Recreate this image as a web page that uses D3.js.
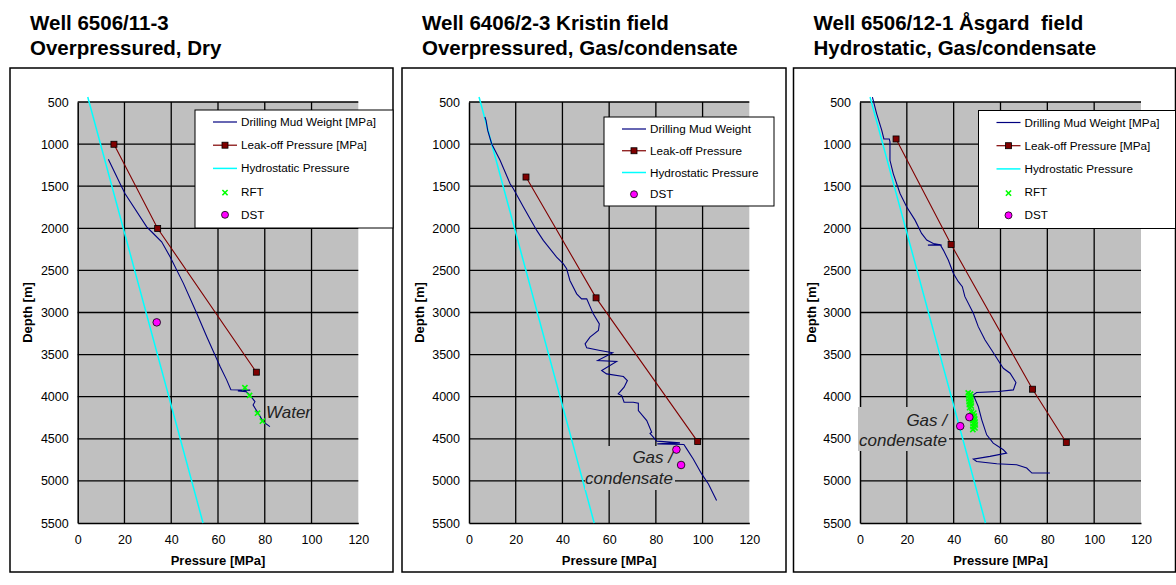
<!DOCTYPE html>
<html lang="en">
  <head>
    <meta charset="UTF-8" />
    <title>Well pressure profiles</title>
    <style>
      body { margin: 0; background: #fff; }
      svg { display: block; font-family: "Liberation Sans", Arial, sans-serif; }
    </style>
  </head>
  <body>
    <script src="https://cdn.jsdelivr.net/npm/d3@7/dist/d3.min.js"></script>
    <script>
      // ---- data : [pressure MPa, depth m] ----
      const pressureTicks = [0, 20, 40, 60, 80, 100, 120];
      const depthTicks = [500, 1000, 1500, 2000, 2500, 3000, 3500, 4000, 4500, 5000, 5500];

      const hydrostatic = [[4.3, 441], [53.6, 5500]];

      // Well 6506/11-3
      const mud1 = [[13.1, 1180], [18.1, 1468], [20.2, 1587], [29.5, 1982], [31.6, 2041], [35.9, 2160],
        [39.5, 2338], [45.2, 2654], [50.9, 3010], [55.2, 3287], [60.9, 3642], [63.7, 3800], [65.5, 3918],
        [73.8, 3922], [68.5, 3932], [72, 3940], [73.6, 3979], [75.8, 4059], [75, 4098], [77.2, 4196],
        [79.3, 4296], [82.2, 4355]];
      const leak1 = [[15.5, 1002], [34.2, 2002], [76.4, 3709]];
      const rft1 = [[71.5, 3893], [73.5, 3985], [76.9, 4196], [79, 4290]];
      const dst1 = [[33.8, 3117]];

      // Well 6406/2-3 Kristin
      const mud2 = [[6.8, 678], [7.3, 718], [8, 837], [9.7, 995], [13.3, 1193], [17.6, 1471], [19, 1530],
        [23.3, 1748], [29, 2025], [31.8, 2144], [37.5, 2342], [40.4, 2422], [41.8, 2481], [43.2, 2620],
        [46.1, 2778], [48.2, 2838], [50.4, 2838], [53.2, 3016], [55.8, 3135], [55.4, 3214], [51.8, 3293],
        [49.7, 3372], [50.4, 3420], [56.1, 3452], [61.5, 3479], [55.1, 3570], [63.2, 3582], [56.8, 3689],
        [58.9, 3729], [66.1, 3761], [67.8, 3808], [66.4, 3887], [63.9, 3967], [65.4, 3987], [66.4, 4066],
        [70.3, 4066], [72.5, 4078], [72.5, 4165], [76.1, 4284], [78.2, 4423], [77.5, 4436], [80.4, 4528],
        [90.3, 4548], [80.6, 4560], [92, 4568], [93.2, 4620], [96, 4739], [99.6, 4917], [102.5, 5036],
        [106, 5234]];
      const leak2 = [[24.4, 1391], [54.4, 2826], [97.9, 4533]];
      const rft2 = [];
      const dst2 = [[88.8, 4628], [90.8, 4811]];

      // Well 6506/12-1 Asgard
      const mud3 = [[5.3, 441], [7.1, 638], [9.3, 836], [10.2, 939], [12.5, 939], [12.8, 974], [12.8, 1192],
        [14.2, 1350], [17.1, 1587], [19.9, 1745], [23.5, 1903], [26.3, 2061], [28.5, 2140], [31.3, 2180],
        [34.9, 2200], [29, 2200], [34.2, 2192], [35.6, 2259], [37.7, 2377], [39.9, 2536], [42, 2634],
        [43.7, 2694], [44.8, 2812], [48.4, 3010], [50.5, 3168], [53.4, 3326], [56.2, 3445], [59.8, 3603],
        [61.2, 3662], [64.1, 3721], [66.6, 3832], [65.5, 3919], [59.1, 3939], [49.8, 3951], [48.4, 3978],
        [50.5, 4117], [52, 4275], [54.1, 4453], [56.9, 4551], [61.2, 4630], [62.6, 4670], [55.5, 4709],
        [48.4, 4741], [49.8, 4769], [58.4, 4796], [66.9, 4808], [71.2, 4848], [73.4, 4907], [81.1, 4907]];
      const leak3 = [[15.4, 939], [38.9, 2192], [73.7, 3911], [88.1, 4543]];
      const rft3 = [[46.2, 3955], [47.2, 3970], [46.4, 3990], [47.3, 4005], [46.5, 4025], [47.4, 4040],
        [46.6, 4060], [47.4, 4075], [46.7, 4095], [47.5, 4110], [46.8, 4130], [47.6, 4180], [48.6, 4195],
        [47.8, 4215], [48.8, 4230], [48, 4250], [49, 4265], [48.2, 4285], [49.1, 4300], [48.3, 4320],
        [49.2, 4335], [48.3, 4355], [49.1, 4370], [48.2, 4390]];
      const dst3 = [[46.7, 4243], [42.8, 4350]];

      const legendFull = ["Drilling Mud Weight [MPa]", "Leak-off Pressure [MPa]", "Hydrostatic Pressure", "RFT", "DST"];
      const legendShort = ["Drilling Mud Weight", "Leak-off Pressure", "Hydrostatic Pressure", "DST"];

      const svg = d3.select("body").append("svg").attr("width", 1176).attr("height", 585);
      svg.append("rect").attr("width", 1176).attr("height", 585).attr("fill", "#fff");

      const panels = [
        {
          frame: [10, 68, 383, 504], plot: [77.7, 358.3],
          title: ["Well 6506/11-3", "Overpressured, Dry"],
          mud: mud1, leak: leak1, rft: rft1, dst: dst1,
          legend: legendFull, legendBox: [195, 110, 198, 118],
          note: { lines: ["Water"], x: 266, y: [417.5], box: null },
        },
        {
          frame: [402, 68, 384, 504], plot: [469, 749.3],
          title: ["Well 6406/2-3 Kristin field", "Overpressured, Gas/condensate"],
          mud: mud2, leak: leak2, rft: rft2, dst: dst2,
          legend: legendShort, legendBox: [604, 117, 170, 89],
          note: { lines: ["Gas /", "condensate"], x: 673, y: [463, 484], box: [585, 446, 90, 44] },
        },
        {
          frame: [793.5, 68, 382, 504], plot: [860, 1141],
          title: ["Well 6506/12-1 Åsgard  field", "Hydrostatic, Gas/condensate"],
          mud: mud3, leak: leak3, rft: rft3, dst: dst3,
          legend: legendFull, legendBox: [978.5, 110.5, 197, 118],
          note: { lines: ["Gas /", "condensate"], x: 947, y: [425.5, 445.5], box: [858, 407, 91, 44] },
        },
      ];

      panels.forEach(drawPanel);

      function drawPanel(p) {
        const x = d3.scaleLinear().domain([0, 120]).range(p.plot);
        const y = d3.scaleLinear().domain([500, 5500]).range([102, 523]);
        const g = svg.append("g");
        const [x0, x1] = p.plot;

        // panel frame
        g.append("rect")
          .attr("x", p.frame[0]).attr("y", p.frame[1])
          .attr("width", p.frame[2]).attr("height", p.frame[3])
          .attr("fill", "#fff").attr("stroke", "#000").attr("stroke-width", 1.5);

        // titles
        p.title.forEach((t, i) => {
          g.append("text")
            .attr("x", p.frame[0] + 20).attr("y", 30 + i * 25)
            .attr("font-size", 20.5).attr("font-weight", "bold")
            .style("white-space", "pre").text(t);
        });

        // plot area
        g.append("rect")
          .attr("x", x0).attr("y", y(500))
          .attr("width", x1 - x0).attr("height", y(5500) - y(500))
          .attr("fill", "#c0c0c0");

        // grid
        g.selectAll(".hgrid").data(depthTicks.slice(0, -1)).join("line")
          .attr("x1", x0).attr("x2", x1).attr("y1", (d) => y(d)).attr("y2", (d) => y(d))
          .attr("stroke", "#000").attr("stroke-width", 1.3);
        g.selectAll(".vgrid").data(pressureTicks.slice(1, -1)).join("line")
          .attr("x1", (d) => x(d)).attr("x2", (d) => x(d)).attr("y1", y(500)).attr("y2", y(5500))
          .attr("stroke", "#000").attr("stroke-width", 1.3);

        // axes
        const ax = g.append("g").attr("transform", `translate(0,${y(5500)})`)
          .call(d3.axisBottom(x).tickValues(pressureTicks).tickSize(0).tickPadding(12));
        const ay = g.append("g").attr("transform", `translate(${x0},0)`)
          .call(d3.axisLeft(y).tickValues(depthTicks).tickSize(0).tickPadding(9).tickFormat(d3.format("d")));
        [ax, ay].forEach((a) => {
          a.select(".domain").attr("stroke", "#000").attr("stroke-width", 1.5);
          a.selectAll("text").attr("font-size", 12.5).attr("font-family", "Liberation Sans, Arial, sans-serif").attr("fill", "#000");
        });

        g.append("text")
          .attr("x", (x0 + x1) / 2).attr("y", 564.5).attr("text-anchor", "middle")
          .attr("font-size", 13).attr("font-weight", "bold").text("Pressure [MPa]");
        g.append("text")
          .attr("transform", `translate(${p.frame[0] + 22},${(y(500) + y(5500)) / 2}) rotate(-90)`)
          .attr("text-anchor", "middle")
          .attr("font-size", 13).attr("font-weight", "bold").text("Depth [m]");

        const line = d3.line().x((d) => x(d[0])).y((d) => y(d[1]));

        g.append("path").attr("d", line(hydrostatic)).attr("fill", "none")
          .attr("stroke", "#00ffff").attr("stroke-width", 1.5);
        g.append("path").attr("d", line(p.mud)).attr("fill", "none")
          .attr("stroke", "#000080").attr("stroke-width", 1.1);
        g.append("path").attr("d", line(p.leak)).attr("fill", "none")
          .attr("stroke", "#800000").attr("stroke-width", 1.1);
        g.selectAll(".leak").data(p.leak).join("rect")
          .attr("x", (d) => x(d[0]) - 3).attr("y", (d) => y(d[1]) - 3)
          .attr("width", 6).attr("height", 6)
          .attr("fill", "#800000").attr("stroke", "#000").attr("stroke-width", 0.8);

        // annotation
        const n = p.note;
        if (n.box) {
          g.append("rect").attr("x", n.box[0]).attr("y", n.box[1])
            .attr("width", n.box[2]).attr("height", n.box[3]).attr("fill", "#c0c0c0");
        }
        n.lines.forEach((t, i) => {
          g.append("text")
            .attr("x", n.x).attr("y", n.y[i])
            .attr("text-anchor", n.box ? "end" : "start")
            .attr("font-size", 17).attr("font-style", "italic").attr("fill", "#222")
            .text(t);
        });

        drawRft(g, p.rft.map((d) => [x(d[0]), y(d[1])]));
        g.selectAll(".dst").data(p.dst).join("circle")
          .attr("cx", (d) => x(d[0])).attr("cy", (d) => y(d[1])).attr("r", 3.8)
          .attr("fill", "#ff00ff").attr("stroke", "#000").attr("stroke-width", 0.8);

        // legend
        const [lx, ly, lw, lh] = p.legendBox;
        const lg = g.append("g");
        lg.append("rect").attr("x", lx).attr("y", ly).attr("width", lw).attr("height", lh)
          .attr("fill", "#fff").attr("stroke", "#000").attr("stroke-width", 1);
        const step = (lh - 2) / p.legend.length;
        p.legend.forEach((label, i) => {
          const cy = ly + 12 + i * step;
          const sx = lx + 18, ex = lx + 42, mx = (sx + ex) / 2;
          if (label.startsWith("Drilling")) {
            lg.append("line").attr("x1", sx).attr("x2", ex).attr("y1", cy).attr("y2", cy)
              .attr("stroke", "#000080").attr("stroke-width", 1.2);
          } else if (label.startsWith("Leak")) {
            lg.append("line").attr("x1", sx).attr("x2", ex).attr("y1", cy).attr("y2", cy)
              .attr("stroke", "#800000").attr("stroke-width", 1.2);
            lg.append("rect").attr("x", mx - 3).attr("y", cy - 3).attr("width", 6).attr("height", 6)
              .attr("fill", "#800000").attr("stroke", "#000").attr("stroke-width", 0.8);
          } else if (label.startsWith("Hydro")) {
            lg.append("line").attr("x1", sx).attr("x2", ex).attr("y1", cy).attr("y2", cy)
              .attr("stroke", "#00ffff").attr("stroke-width", 1.5);
          } else if (label === "RFT") {
            drawRft(lg, [[mx, cy + 1]]);
          } else {
            lg.append("circle").attr("cx", mx).attr("cy", cy).attr("r", 3.5)
              .attr("fill", "#ff00ff").attr("stroke", "#000").attr("stroke-width", 0.8);
          }
          lg.append("text").attr("x", ex + 4).attr("y", cy + 4)
            .attr("font-size", 11.7).text(label);
        });
      }

      function drawRft(g, pts) {
        const s = 2.6;
        pts.forEach(([cx, cy]) => {
          g.append("path")
            .attr("d", `M${cx - s},${cy - s}L${cx + s},${cy + s}M${cx - s},${cy + s}L${cx + s},${cy - s}`)
            .attr("stroke", "#00ff00").attr("stroke-width", 1.6);
        });
      }
    </script>
  </body>
</html>
